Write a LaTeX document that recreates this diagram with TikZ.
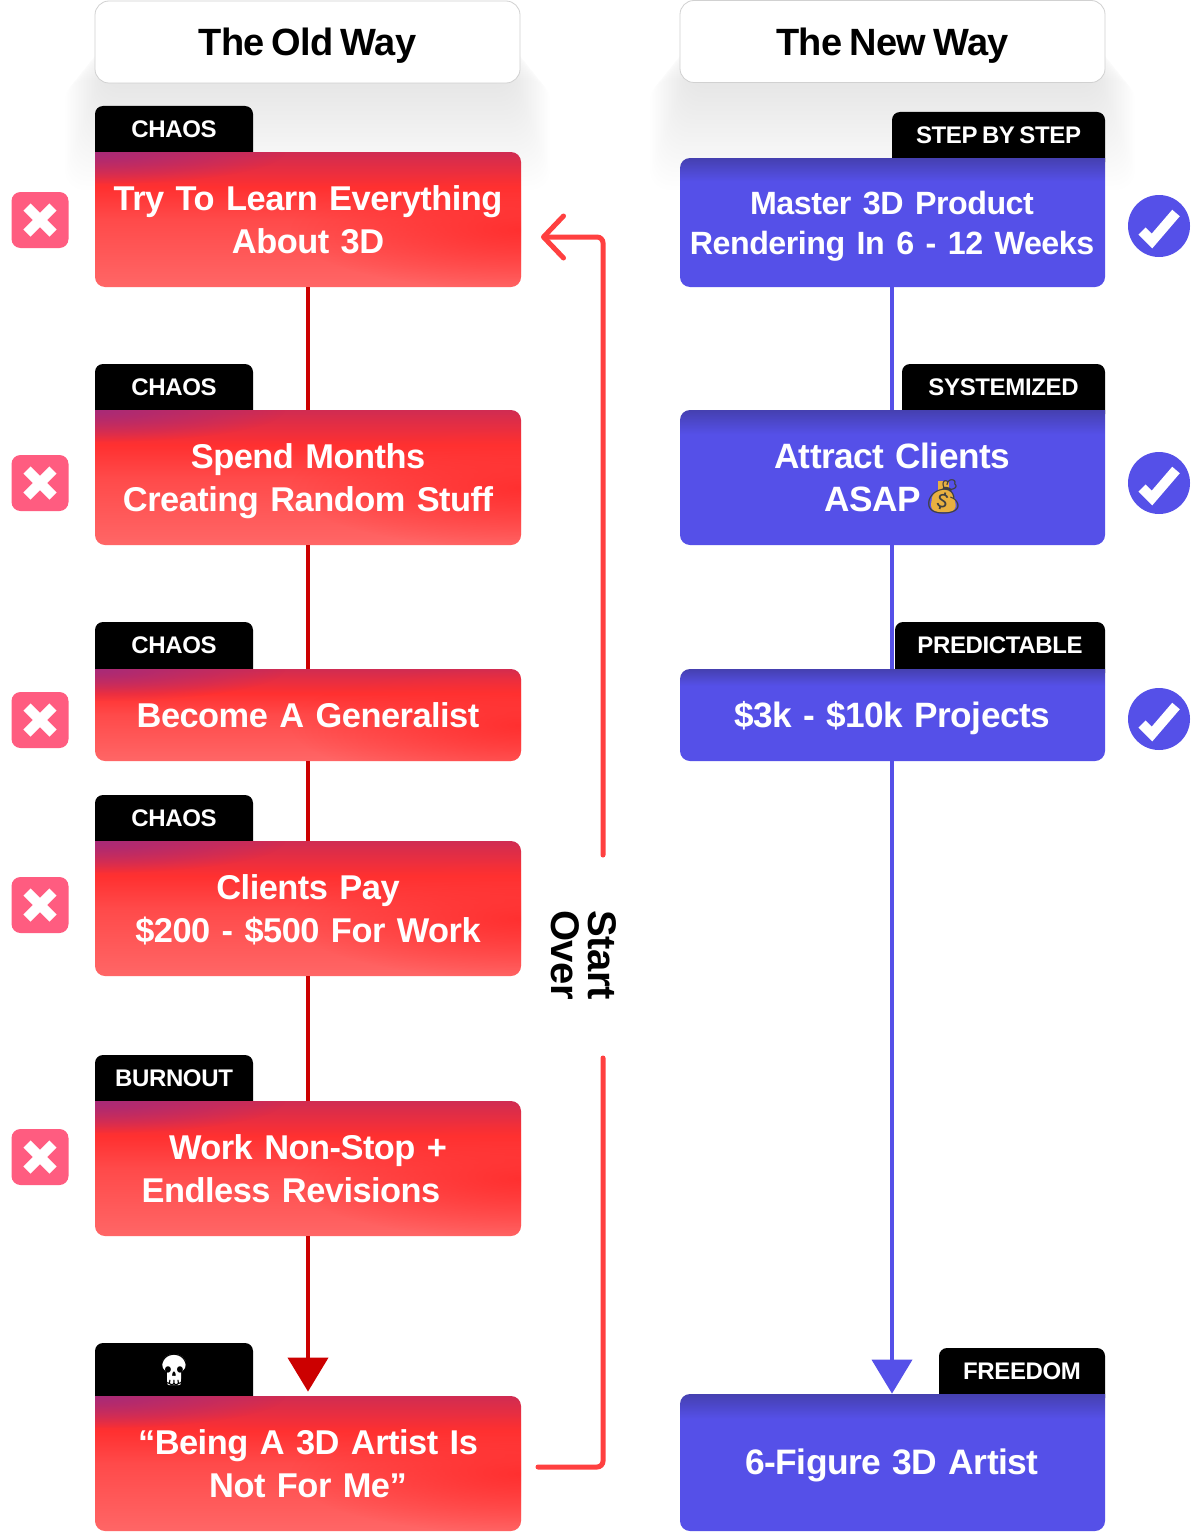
\documentclass[tikz,border=0pt]{standalone}
\usepackage{fontspec}
\setmainfont{Liberation Sans}[LetterSpace=-1.5,WordSpace=0.7]
\newfontfamily\emojifont{Noto Emoji}
\usetikzlibrary{arrows.meta,fadings}
\definecolor{indigo}{HTML}{5550E8}
\definecolor{indigodark}{HTML}{4540B0}
\definecolor{darkred}{HTML}{CC0000}
\definecolor{loopred}{HTML}{FF4040}
\definecolor{badge}{HTML}{FF5C80}
\definecolor{hot}{HTML}{FF3030}
\definecolor{plum}{HTML}{A82A78}
\definecolor{bagcol}{HTML}{E8B040}
\definecolor{rlow}{HTML}{FF6666}
\definecolor{rmid}{HTML}{FF4A4A}
\definecolor{rtop}{HTML}{D02C52}
\pgfdeclareverticalshading{redgrad}{100bp}{color(0bp)=(rlow); color(25bp)=(rlow); color(50bp)=(rmid); color(62bp)=(hot); color(75bp)=(rtop); color(100bp)=(rtop)}
\pgfdeclareverticalshading{bluegrad}{100bp}{color(0bp)=(indigo); color(66bp)=(indigo); color(75bp)=(indigodark); color(100bp)=(indigodark)}
\tikzfading[name=cornerfade,inner color=transparent!0,outer color=transparent!100]
\newcommand{\lineframe}[1]{\rule{0pt}{16pt}#1\rule[-4pt]{0pt}{4pt}}
\tikzset{
  x=0.5pt,y=-0.5pt,
  boxtext/.style={text=white,font=\fontsize{17.2}{21.5}\selectfont\bfseries,align=center,inner sep=0pt,anchor=center},
  tabtext/.style={text=white,font=\fontsize{12}{15}\selectfont\bfseries,inner sep=0pt},
  headbox/.style={draw=black!18,line width=0.4pt,fill=white,rounded corners=7pt,minimum width=212.5pt,minimum height=41pt,inner sep=0pt,text height=16pt,text depth=2pt,text=black,font=\fontsize{19}{22}\selectfont\bfseries},
  xbadge/.style={fill=badge,rounded corners=4.5pt,minimum width=28.5pt,minimum height=28pt,inner sep=0pt},
  okbadge/.style={circle,fill=indigo,minimum size=31pt,inner sep=0pt},
  redline/.style={draw=darkred,line width=2pt},
  blueline/.style={draw=indigo,line width=2pt},
  looparrow/.style={draw=loopred,line width=2.5pt,rounded corners=3pt,line cap=round},
}
% name, y1, y2, tab y, tab text, text
\newcommand{\redstep}[6]{%
  \fill[black,rounded corners=4pt] (95,#4) rectangle (253,#2+12);
  \begin{scope}
    \clip (95,#2) -- (511,#2) arc[start angle=-90,end angle=0,radius=10] -- (521,#3-10) arc[start angle=0,end angle=90,radius=10] -- (105,#3) arc[start angle=90,end angle=180,radius=10] -- cycle;
    \shade[shading=redgrad] (95,#2) rectangle (521,#3);
    \fill[hot,path fading=cornerfade] (521,{(#2+#3)/2+10}) ellipse[x radius=230,y radius=60];
    \fill[plum,path fading=cornerfade] (95,#2) ellipse[x radius=190,y radius=32];
  \end{scope}
  \node[tabtext] (#1tab) at (174,{(#4+#2)/2}) {#5};
  \pgfmathsetmacro{\hh}{(#3-#2)/2}
  \node[boxtext,minimum width=213pt,minimum height=\hh pt,text width=213pt] (#1) at (308,{(#2+#3)/2}) {\lineframe{#6}};
}
% name, y1, y2, tab x, tab y, tab text, text
\newcommand{\bluestep}[7]{%
  \fill[black,rounded corners=4pt] (#4,#5) rectangle (1105,#2+12);
  \begin{scope}
    \clip (690,#2) -- (1105,#2) -- (1105,#3-10) arc[start angle=0,end angle=90,radius=10] -- (690,#3) arc[start angle=90,end angle=180,radius=10] -- (680,#2+10) arc[start angle=180,end angle=270,radius=10] -- cycle;
    \shade[shading=bluegrad] (680,#2) rectangle (1105,#3);
  \end{scope}
  \node[tabtext] (#1tab) at ({(#4+1105)/2},{(#5+#2)/2}) {#6};
  \pgfmathsetmacro{\hh}{(#3-#2)/2}
  \node[boxtext,minimum width=212.5pt,minimum height=\hh pt,text width=212.5pt] (#1) at (892,{(#2+#3)/2}) {\lineframe{#7}};
}
\newcommand{\crossmark}[2]{%
  \node[xbadge] (#1) at (40,#2) {};
  \draw[white,line width=5pt] ([xshift=-6.5pt,yshift=6.5pt]#1.center) -- ([xshift=6.5pt,yshift=-6.5pt]#1.center);
  \draw[white,line width=5pt] ([xshift=-6.5pt,yshift=-6.5pt]#1.center) -- ([xshift=6.5pt,yshift=6.5pt]#1.center);
}
\newcommand{\tickmark}[2]{%
  \node[okbadge] (#1) at (1159,#2) {};
  \draw[white,line width=5pt] ([xshift=-8.5pt,yshift=-2.5pt]#1.center) -- ([xshift=-3.5pt,yshift=-7.5pt]#1.center) -- ([xshift=8.5pt,yshift=6.5pt]#1.center);
}
\begin{document}
\begin{tikzpicture}
\useasboundingbox (0,0) rectangle (1200,1536);
\fill[white] (0,0) rectangle (1200,1536);
% soft header shadows
\foreach \s in {0,2,...,50}{
  \fill[black,opacity=0.005,rounded corners=10pt] ({105-0.8*\s},{30+\s}) rectangle ({510+0.8*\s},{80+2.2*\s});
  \fill[black,opacity=0.005,rounded corners=10pt] ({690-0.8*\s},{30+\s}) rectangle ({1095+0.8*\s},{80+2.2*\s});
}
\node[headbox] (oldhead) at (307.5,42) {The Old Way};
\node[headbox] (newhead) at (892.5,41.5) {The New Way};

\redstep{ra}{152}{287}{106}{CHAOS}{Try To Learn Everything\\About 3D}
\redstep{rb}{410}{545}{364}{CHAOS}{Spend Months\\Creating Random Stuff}
\redstep{rc}{669}{761}{622}{CHAOS}{Become A Generalist}
\redstep{rd}{841}{976}{795}{CHAOS}{Clients Pay\hspace*{4pt}\\\$200 - \$500 For Work}
\redstep{re}{1101}{1236}{1055}{BURNOUT}{Work Non-Stop +\\Endless Revisions\hspace*{17pt}}
\redstep{rf}{1396}{1531}{1343}{}{“Being A 3D Artist Is\\Not For Me”}
\fill[white] (174,1364) ellipse[x radius=12,y radius=10];
\fill[white,rounded corners=1pt] (167,1368) rectangle (181,1385);
\node[inner sep=0pt,text=black,font=\emojifont\fontsize{15.5}{16}\selectfont] (skull) at (174,1370) {\symbol{"1F480}};

\bluestep{ba}{158}{287}{892}{112}{STEP BY STEP}{\fontsize{16.1}{20}\selectfont Master 3D Product\\[-1.5pt]Rendering In 6 - 12 Weeks}
\bluestep{bb}{410}{545}{902}{364}{SYSTEMIZED}{\fontsize{17.6}{21.5}\selectfont Attract Clients\\ASAP\hspace*{19.5pt}}
\bluestep{bc}{669}{761}{895}{622}{PREDICTABLE}{\fontsize{17.6}{21.5}\selectfont\$3k - \$10k Projects}
\bluestep{bd}{1394}{1531}{939}{1348}{FREEDOM}{\fontsize{17.7}{21.5}\selectfont 6-Figure 3D Artist}
\fill[bagcol,rounded corners=4pt] (933,490) -- (953,490) -- (957,512) -- (930,512) -- cycle;
\fill[bagcol] (938,481) rectangle (949,492);
\node[inner sep=0pt,text=black!75,font=\emojifont\fontsize{17}{18}\selectfont] (bag) at (943.5,497) {\symbol{"1F4B0}};

\crossmark{xa}{220}
\crossmark{xb}{483}
\crossmark{xc}{720}
\crossmark{xd}{905}
\crossmark{xe}{1157}
\tickmark{ta}{226}
\tickmark{tb}{483}
\tickmark{tc}{719}

\draw[redline] (ra.south) -- (rb.north);
\draw[redline] (rb.south) -- (rc.north);
\draw[redline] (rc.south) -- (rd.north);
\draw[redline] (rd.south) -- (re.north);
\draw[redline,-{Triangle[length=17pt,width=20pt]},shorten >=2pt] (re.south) -- (rf.north);
\draw[blueline] (ba.south) -- (bb.north);
\draw[blueline] (bb.south) -- (bc.north);
\draw[blueline,-{Triangle[length=17pt,width=20pt]}] (bc.south) -- (bd.north);

\node[rotate=-90,inner sep=0pt,align=center,font=\fontsize{20}{18.5}\selectfont\bfseries] (startover) at (584,955) {Start\\Over};
\coordinate (loopstart) at (538,1467);
\coordinate (loopcorner) at (603,1467);
\coordinate (loopgap) at (603,1058);
\coordinate (loopresume) at (603,855);
\coordinate (looptop) at (603,237);
\coordinate (loopend) at (541,237);
\draw[looparrow] (loopstart) -- (loopcorner) -- (loopgap);
\draw[looparrow,-{Straight Barb[length=10pt,width=21pt,line width=2.5pt,round]}] (loopresume) -- (looptop) -- (loopend);
\end{tikzpicture}
\end{document}
